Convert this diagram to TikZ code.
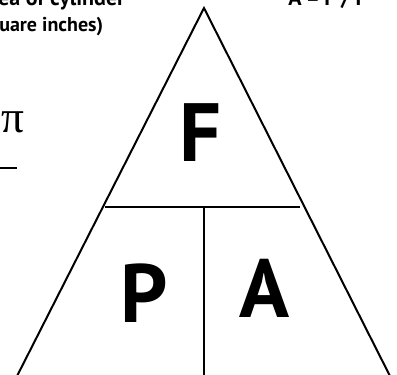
\documentclass[tikz,border=0pt]{standalone}
\usepackage{fontspec}
\setmainfont{PT Sans}
\newfontfamily\pifont{Liberation Serif}

\begin{document}
\begin{tikzpicture}[x=0.75pt,y=-0.75pt,
    side/.style={line width=1.5pt, black},
    bigletter/.style={font=\fontsize{62}{62}\selectfont\bfseries, inner sep=0pt},
    toptext/.style={font=\fontsize{15}{18}\selectfont\bfseries, inner sep=0pt, anchor=base west},
    headtext/.style={toptext, font=\fontsize{16.5}{18}\selectfont\bfseries}]

  \useasboundingbox (0,0) rectangle (397,375);

  % ---- the triangle ----
  \coordinate (Top) at (204,8);
  \coordinate (BL) at (13,384);
  \coordinate (BR) at (394,384);
  \draw[side, line join=miter] (BL) -- (Top) -- (BR) -- cycle;

  % ---- the dividers ----
  \coordinate (HL) at (105,207);
  \coordinate (HR) at (300,207);
  \draw[side] (HL) -- (HR);
  \coordinate (VT) at (204,207);
  \coordinate (VB) at (204,384);
  \draw[side] (VT) -- (VB);

  % ---- the three letters ----
  \node[bigletter] (F) at (200,133) {F};
  \node[bigletter] (P) at (144,293) {P};
  \node[bigletter] (A) at (265,288) {A};

  % ---- texts at the top, cut by the frame ----
  \node[headtext] (area) at (-2,5) {ea of cylinder};
  \node[toptext] (unit) at (-1,31) {uare inches)};
  \node[headtext] (formula) at (288,5) {A = F / P};

  % ---- pi and the bar below it ----
  \node[font=\pifont\fontsize{34}{34}\selectfont, inner sep=0pt,
        anchor=base west] (pi) at (1,132) {π};
  \coordinate (barL) at (0,168);
  \coordinate (barR) at (17,168);
  \draw[line width=1.5pt] (barL) -- (barR);

\end{tikzpicture}
\end{document}
